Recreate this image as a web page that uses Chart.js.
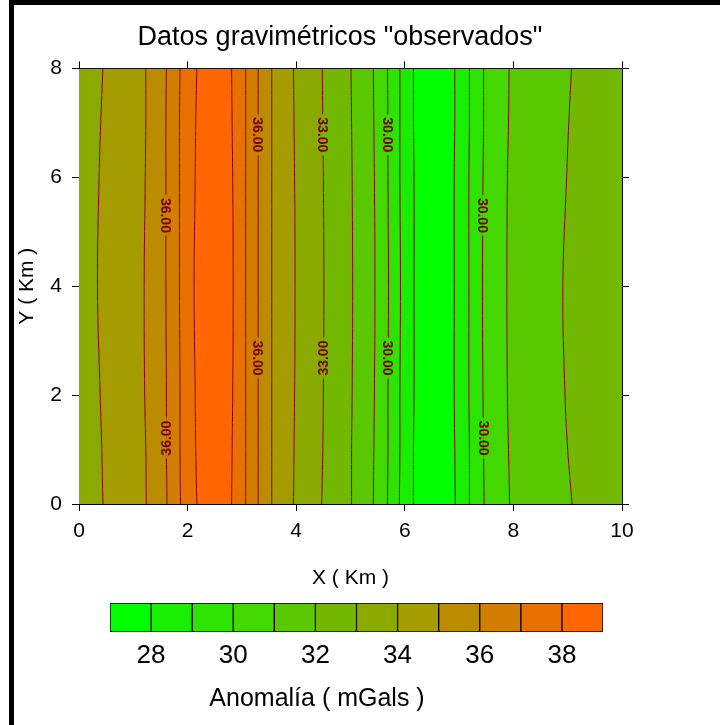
<!DOCTYPE html>
<html>
<head>
<meta charset="utf-8">
<script src="https://cdn.jsdelivr.net/npm/chart.js@4.4.1/dist/chart.umd.min.js"></script>
<style>
  html, body { margin: 0; padding: 0; background: #fff; }
  body { width: 720px; height: 725px; position: relative; overflow: hidden; }
  #frame { position: absolute; left: 9px; top: 0; width: 711px; height: 725px;
           border-top: 5px solid #000; border-left: 5px solid #000; box-sizing: border-box; z-index: 2; }
  #mapWrap { position: absolute; left: 0; top: 0; width: 720px; height: 592px; }
  #barWrap { position: absolute; left: 0; top: 592px; width: 720px; height: 133px; }
</style>
</head>
<body>
<div id="mapWrap"><canvas id="mapChart" width="720" height="592"></canvas></div>
<div id="barWrap"><canvas id="colorBar" width="720" height="133"></canvas></div>
<div id="frame"></div>
<script>
const sampleY = [0, 1, 2, 4, 6, 7, 8];

// contour lines from left to right: level and x position (Km) at each sampleY
const contourLevel = [34, 35, 36, 37, 38, 38, 37, 36, 35, 34, 33, 32, 31, 30, 29, 28, 28, 29, 30, 31, 32];
const contourX = [
    [0.44, 0.42, 0.39, 0.34, 0.37, 0.40, 0.44],
    [1.24, 1.23, 1.21, 1.20, 1.22, 1.23, 1.23],
    [1.62, 1.61, 1.61, 1.60, 1.60, 1.60, 1.61],
    [1.87, 1.86, 1.86, 1.85, 1.85, 1.85, 1.86],
    [2.17, 2.15, 2.14, 2.12, 2.14, 2.15, 2.17],
    [2.81, 2.82, 2.83, 2.84, 2.83, 2.82, 2.81],
    [3.07, 3.07, 3.07, 3.07, 3.07, 3.07, 3.07],
    [3.30, 3.30, 3.30, 3.30, 3.30, 3.30, 3.30],
    [3.55, 3.55, 3.55, 3.55, 3.55, 3.55, 3.55],
    [3.95, 3.96, 3.97, 3.98, 3.97, 3.96, 3.95],
    [4.47, 4.49, 4.50, 4.51, 4.50, 4.49, 4.48],
    [5.02, 5.02, 5.03, 5.04, 5.03, 5.02, 5.01],
    [5.42, 5.43, 5.44, 5.45, 5.44, 5.43, 5.42],
    [5.68, 5.69, 5.69, 5.70, 5.69, 5.69, 5.68],
    [5.90, 5.91, 5.91, 5.92, 5.91, 5.91, 5.91],
    [6.16, 6.16, 6.17, 6.17, 6.17, 6.16, 6.16],
    [6.93, 6.92, 6.91, 6.91, 6.91, 6.92, 6.92],
    [7.19, 7.19, 7.18, 7.18, 7.18, 7.19, 7.19],
    [7.46, 7.45, 7.44, 7.43, 7.44, 7.45, 7.45],
    [7.93, 7.91, 7.89, 7.88, 7.89, 7.91, 7.92],
    [9.08, 9.00, 8.95, 8.91, 8.98, 9.02, 9.07]
];

// lower value (mGal) of each band between contours, from x = 0 to x = 10
const bandLow = [33, 34, 35, 36, 37, 38, 37, 36, 35, 34, 33, 32, 31, 30, 29, 28, 27, 28, 29, 30, 31, 32];

// colour scale
const scaleLevels = [27, 28, 29, 30, 31, 32, 33, 34, 35, 36, 37, 38, 39];
const scaleColors = [
    "#00ff00", "#18ee00", "#2ce400", "#42d800", "#5ac800", "#72b800",
    "#8aaa00", "#a49c00", "#bc8c00", "#d27c00", "#e87000", "#ff6600"
];
const scaleTicks = [28, 30, 32, 34, 36, 38];

// contour labels: which contour and at what y (Km), text rotation in degrees
const labelContour = [2, 2, 7, 7, 10, 10, 13, 13, 18, 18];
const labelY       = [5.30, 1.21, 6.78, 2.68, 6.78, 2.68, 6.78, 2.68, 5.30, 1.21];
const labelAngle   = [90, -90, 90, 90, 90, -90, 90, 90, 90, 90];

const FONT = '"Liberation Sans", Arial, sans-serif';
Chart.defaults.font.family = FONT;
Chart.defaults.color = "#000";

function bandColor(low) {
    return scaleColors[scaleLevels.indexOf(low)];
}

// x of a contour at a given y, interpolated between the sampled points
function contourXAt(c, yv) {
    const xs = contourX[c];
    for (let j = 0; j < sampleY.length - 1; j++) {
        if (yv >= sampleY[j] && yv <= sampleY[j + 1]) {
            const t = (yv - sampleY[j]) / (sampleY[j + 1] - sampleY[j]);
            return xs[j] + t * (xs[j + 1] - xs[j]);
        }
    }
    return xs[xs.length - 1];
}

const xMin = 0, xMax = 10, yMin = 0, yMax = 8;

// datasets: left edge, every contour (filled back to the previous line), right edge
const datasets = [];
datasets.push({
    data: sampleY.map(y => ({ x: xMin, y: y })),
    borderWidth: 0,
    borderColor: "rgba(0,0,0,0)",
    fill: false
});
contourX.forEach((xs, i) => {
    datasets.push({
        data: sampleY.map((y, j) => ({ x: xs[j], y: y })),
        borderColor: "#8b0000",
        borderWidth: 1,
        backgroundColor: bandColor(bandLow[i]),
        fill: "-1"
    });
});
datasets.push({
    data: sampleY.map(y => ({ x: xMax, y: y })),
    borderWidth: 0,
    borderColor: "rgba(0,0,0,0)",
    backgroundColor: bandColor(bandLow[bandLow.length - 1]),
    fill: "-1"
});

// draws the "36.00" style labels on top of the contour lines
const contourLabels = {
    id: "contourLabels",
    afterDatasetsDraw(chart) {
        const { ctx, scales: { x, y } } = chart;
        ctx.save();
        ctx.font = "bold 14px " + FONT;
        ctx.textAlign = "center";
        ctx.textBaseline = "middle";
        labelContour.forEach((c, i) => {
            const yv = labelY[i];
            const px = x.getPixelForValue(contourXAt(c, yv));
            const py = y.getPixelForValue(yv);
            const text = contourLevel[c].toFixed(2);
            const w = ctx.measureText(text).width + 6;
            // hide the line behind the text
            ctx.fillStyle = bandColor(bandLow[c]);
            ctx.fillRect(px - 3, py - w / 2, 3, w);
            ctx.fillStyle = bandColor(bandLow[c + 1]);
            ctx.fillRect(px, py - w / 2, 3, w);
            ctx.save();
            ctx.translate(px, py);
            ctx.rotate(labelAngle[i] * Math.PI / 180);
            ctx.fillStyle = "#7a0000";
            ctx.fillText(text, 0, 1);
            ctx.restore();
        });
        ctx.restore();
    }
};

function frameAxis(position, min, max, show, size, title) {
    const horizontal = position === "top" || position === "bottom";
    return {
        type: "linear",
        position: position,
        min: min,
        max: max,
        ticks: { display: show, stepSize: 2, color: "#000", font: { size: 21 }, padding: horizontal ? 8 : 10, maxRotation: 0 },
        grid: { drawOnChartArea: false, color: "#000", tickLength: 7 },
        border: { display: true, color: "#000", width: 1 },
        title: title ? { display: true, text: title, color: "#000", font: { size: 21 },
                         padding: horizontal ? { top: 0, bottom: 1 } : { top: 15, bottom: 0 } }
                     : { display: false },
        afterFit: s => { if (horizontal) s.height = size; else s.width = size; }
    };
}

new Chart(document.getElementById("mapChart"), {
    type: "line",
    data: { datasets: datasets },
    options: {
        responsive: false,
        animation: false,
        events: [],
        indexAxis: "y",
        elements: { point: { radius: 0 }, line: { tension: 0.4 } },
        layout: { padding: { left: 0, right: 40, top: 0, bottom: 0 } },
        plugins: {
            legend: { display: false },
            tooltip: { enabled: false },
            filler: { propagate: false },
            title: {
                display: true,
                text: 'Datos gravimétricos "observados"',
                color: "#000",
                font: { size: 27, weight: "normal" },
                padding: { top: 21, bottom: 0 }
            }
        },
        scales: {
            x:  frameAxis("bottom", xMin, xMax, true, 88, "X ( Km )"),
            x2: frameAxis("top", xMin, xMax, false, 15, null),
            y:  frameAxis("left", yMin, yMax, true, 79, "Y ( Km )"),
            y2: frameAxis("right", yMin, yMax, false, 58, null)
        }
    },
    plugins: [contourLabels]
});

// colour scale bar underneath
new Chart(document.getElementById("colorBar"), {
    type: "bar",
    data: {
        labels: [""],
        datasets: scaleColors.map((c, i) => ({
            data: [[scaleLevels[i], scaleLevels[i + 1]]],
            backgroundColor: c,
            borderColor: "#000",
            borderWidth: 1,
            borderSkipped: false,
            grouped: false,
            barPercentage: 1,
            categoryPercentage: 1
        }))
    },
    options: {
        responsive: false,
        animation: false,
        events: [],
        indexAxis: "y",
        layout: { padding: { left: 31, right: 117, top: 11, bottom: 0 } },
        plugins: {
            legend: { display: false },
            tooltip: { enabled: false },
            title: {
                display: true,
                position: "bottom",
                text: "Anomalía ( mGals )",
                color: "#000",
                font: { size: 25, weight: "normal" },
                padding: { top: 12, bottom: 11 }
            }
        },
        scales: {
            x: {
                type: "linear",
                min: scaleLevels[0],
                max: scaleLevels[scaleLevels.length - 1],
                afterBuildTicks: s => { s.ticks = scaleTicks.map(v => ({ value: v })); },
                ticks: { color: "#000", font: { size: 26 }, padding: 8, maxRotation: 0, autoSkip: false },
                grid: { display: false, drawTicks: false },
                border: { display: false },
                afterFit: s => { s.height = 40; }
            },
            y: {
                type: "category",
                ticks: { display: false },
                grid: { display: false, drawTicks: false },
                border: { display: false },
                afterFit: s => { s.width = 79; }
            }
        }
    }
});
</script>
</body>
</html>
